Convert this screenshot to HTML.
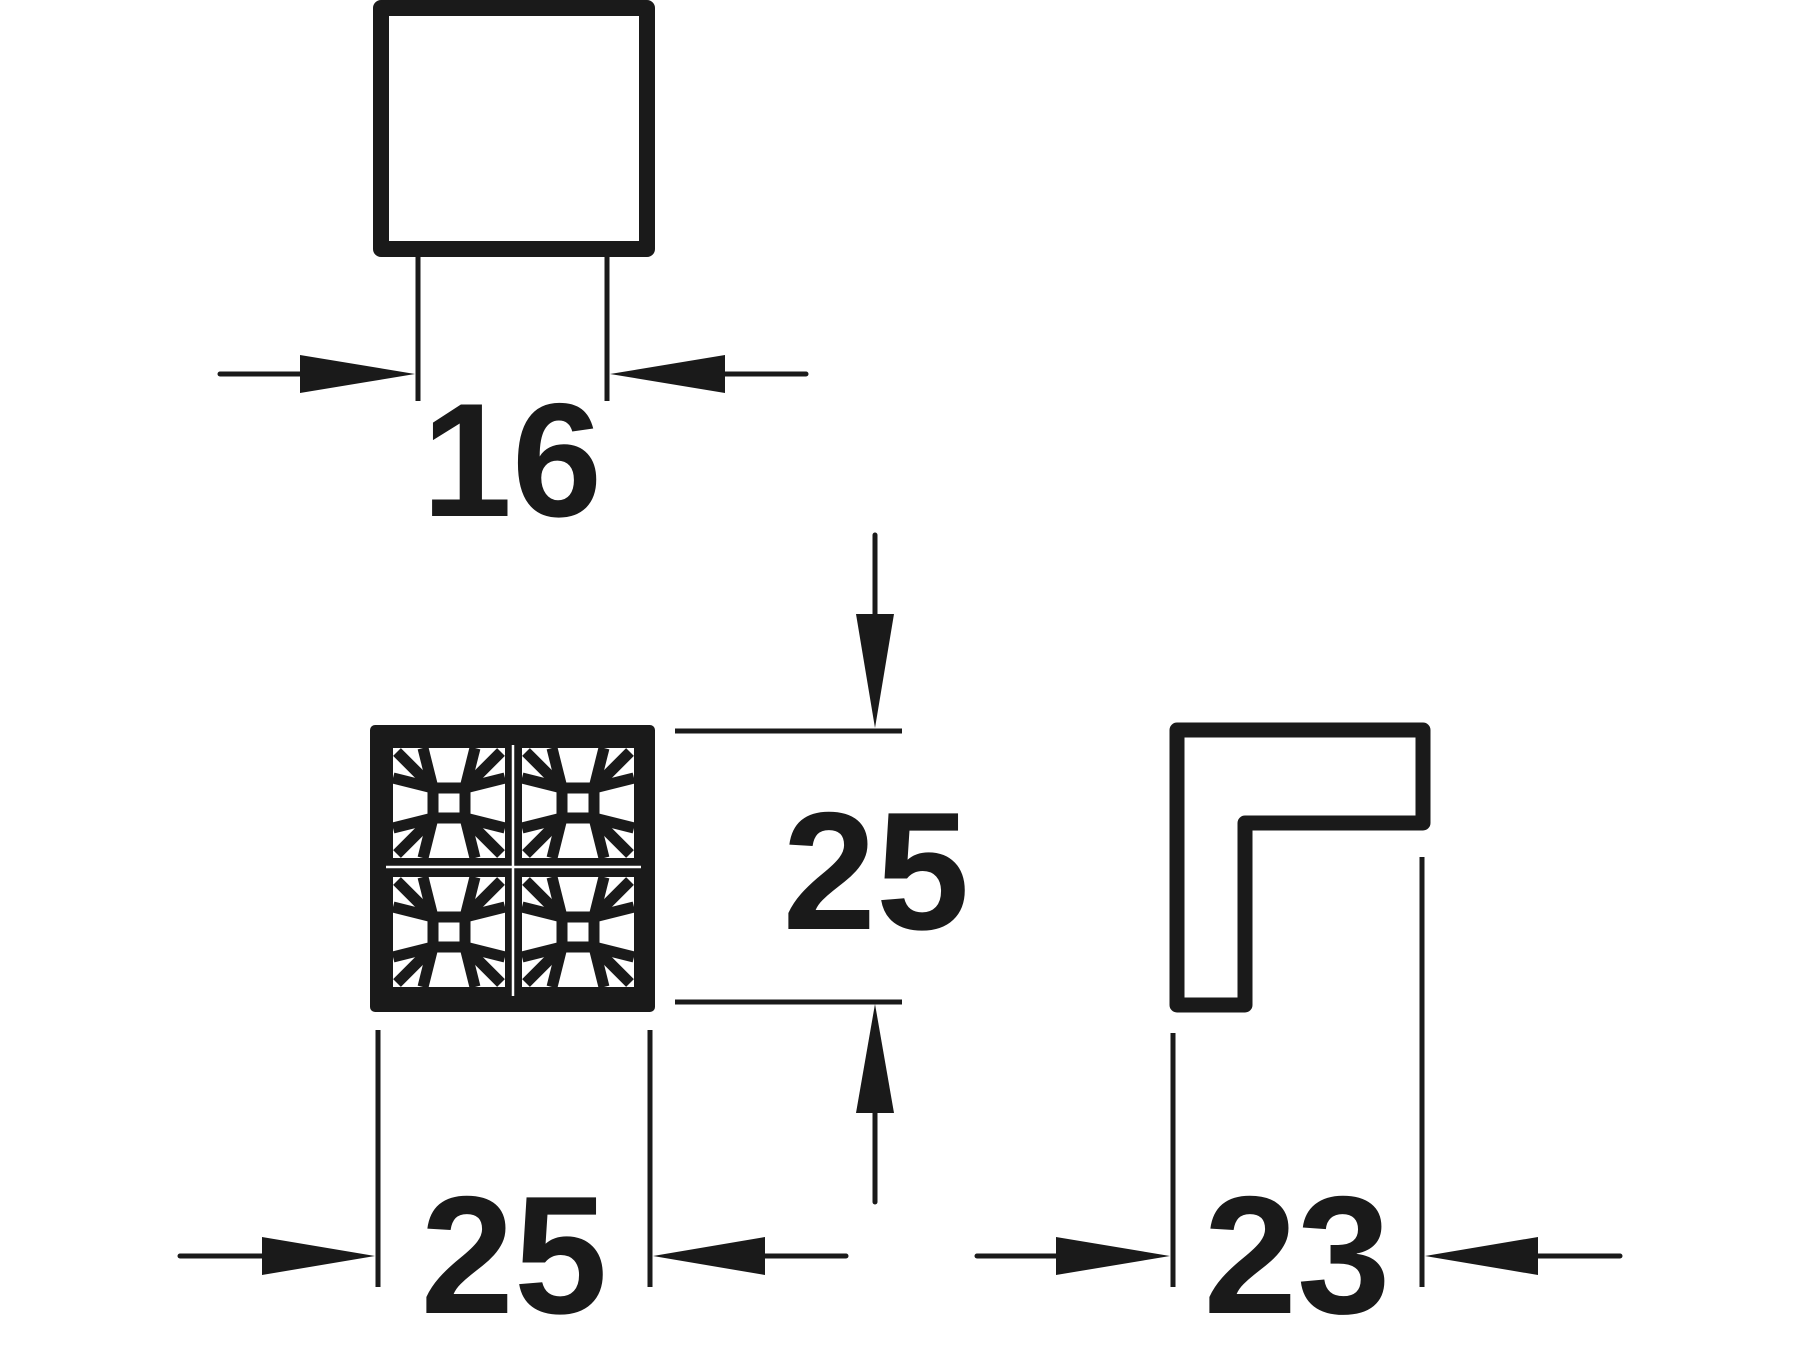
<!DOCTYPE html>
<html><head><meta charset="utf-8"><style>
html,body{margin:0;padding:0;background:#fff;}
svg{display:block}
text{font-family:"Liberation Sans",Arial,sans-serif;font-weight:bold;fill:#1a1a1a;}
</style></head><body>
<svg width="1800" height="1350" viewBox="0 0 1800 1350" xmlns="http://www.w3.org/2000/svg">
<defs>
<g id="cell">
  <rect x="0" y="0" width="112" height="110" fill="#fff"/>
  <g stroke="#1a1a1a" stroke-width="11" fill="none" stroke-linecap="butt">
    <rect x="40" y="40" width="32" height="30"/>
    <line x1="40" y1="40" x2="30" y2="0"/>
    <line x1="40" y1="40" x2="0" y2="30"/>
    <line x1="40" y1="40" x2="4" y2="4"/>
    <line x1="72" y1="40" x2="82" y2="0"/>
    <line x1="72" y1="40" x2="112" y2="30"/>
    <line x1="72" y1="40" x2="108" y2="4"/>
    <line x1="40" y1="70" x2="30" y2="110"/>
    <line x1="40" y1="70" x2="0" y2="80"/>
    <line x1="40" y1="70" x2="4" y2="106"/>
    <line x1="72" y1="70" x2="82" y2="110"/>
    <line x1="72" y1="70" x2="112" y2="80"/>
    <line x1="72" y1="70" x2="108" y2="106"/>
  </g>
</g>
</defs>
<g stroke="#1a1a1a" fill="none" stroke-linecap="round" stroke-linejoin="round">
  <rect x="381" y="8" width="266" height="241" stroke-width="16"/>
  <line x1="418" y1="257" x2="418" y2="401" stroke-width="5" stroke-linecap="butt"/>
  <line x1="607" y1="257" x2="607" y2="401" stroke-width="5" stroke-linecap="butt"/>
  <line x1="220" y1="374" x2="305" y2="374" stroke-width="5"/>
  <line x1="725" y1="374" x2="806" y2="374" stroke-width="5"/>
  <line x1="875" y1="535" x2="875" y2="616" stroke-width="5"/>
  <line x1="875" y1="1110" x2="875" y2="1202" stroke-width="5"/>
  <line x1="675" y1="731" x2="902" y2="731" stroke-width="5" stroke-linecap="butt"/>
  <line x1="675" y1="1002" x2="902" y2="1002" stroke-width="5" stroke-linecap="butt"/>
  <line x1="378" y1="1030" x2="378" y2="1287" stroke-width="5" stroke-linecap="butt"/>
  <line x1="650" y1="1030" x2="650" y2="1287" stroke-width="5" stroke-linecap="butt"/>
  <line x1="180" y1="1256" x2="265" y2="1256" stroke-width="5"/>
  <line x1="760" y1="1256" x2="846" y2="1256" stroke-width="5"/>
  <path d="M1177 730 L1423 730 L1423 823 L1245 823 L1245 1005 L1177 1005 Z" stroke-width="15"/>
  <line x1="1173" y1="1033" x2="1173" y2="1287" stroke-width="5" stroke-linecap="butt"/>
  <line x1="1422" y1="857" x2="1422" y2="1287" stroke-width="5" stroke-linecap="butt"/>
  <line x1="977" y1="1256" x2="1060" y2="1256" stroke-width="5"/>
  <line x1="1535" y1="1256" x2="1620" y2="1256" stroke-width="5"/>
</g>
<g fill="#1a1a1a">
  <polygon points="300,355 300,393 415,374"/>
  <polygon points="725,355 725,393 610,374"/>
  <polygon points="856,614 894,614 875,728"/>
  <polygon points="856,1113 894,1113 875,1004"/>
  <polygon points="262,1237 262,1275 375,1256"/>
  <polygon points="765,1237 765,1275 653,1256"/>
  <polygon points="1056,1237 1056,1275 1170,1256"/>
  <polygon points="1538,1237 1538,1275 1425,1256"/>
  <rect x="370" y="725" width="285" height="287" rx="5"/>
</g>
<use href="#cell" x="393" y="748"/>
<use href="#cell" x="522" y="748"/>
<use href="#cell" x="393" y="877"/>
<use href="#cell" x="522" y="877"/>
<line x1="513" y1="745" x2="513" y2="996" stroke="#fff" stroke-width="2.5"/>
<line x1="386" y1="867" x2="641" y2="867" stroke="#fff" stroke-width="2.5"/>
<text x="512" y="516" font-size="162" text-anchor="middle">16</text>
<text x="876" y="929" font-size="168" text-anchor="middle">25</text>
<text x="514" y="1313" font-size="168" text-anchor="middle">25</text>
<text x="1297" y="1313" font-size="168" text-anchor="middle">23</text>
</svg>
</body></html>
